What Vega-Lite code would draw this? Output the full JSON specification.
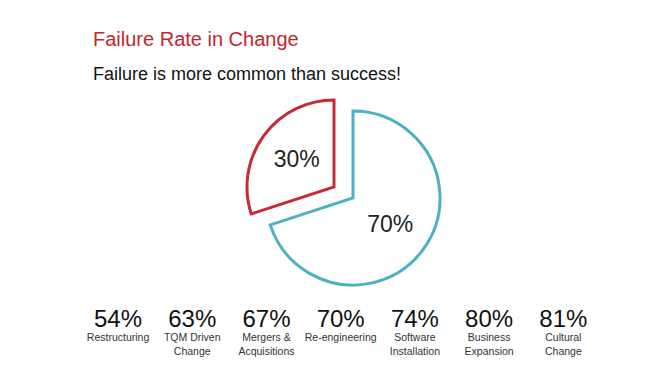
{
  "$schema": "https://vega.github.io/schema/vega-lite/v6.json",
  "background": "#ffffff",
  "padding": {"top": 30, "left": 0, "right": 0, "bottom": 0},
  "config": {"view": {"stroke": null}, "font": "Liberation Sans", "concat": {"spacing": 0}},
  "title": {
    "text": "Failure Rate in Change",
    "subtitle": "Failure is more common than success!",
    "anchor": "start",
    "frame": "group",
    "dx": 93,
    "font": "Liberation Sans",
    "fontSize": 20,
    "fontWeight": "normal",
    "color": "#c3262f",
    "subtitleFont": "Liberation Sans",
    "subtitleFontSize": 18,
    "subtitleColor": "#111111",
    "subtitlePadding": 16,
    "offset": 10
  },
  "spacing": 0,
  "vconcat": [
    {
      "width": 668,
      "height": 200,
      "data": {"values": [
        {"outcome": "Success", "share": 0.7, "order": 1},
        {"outcome": "Failure", "share": 0.3, "order": 2}
      ]},
      "encoding": {
        "theta": {"field": "share", "type": "quantitative", "stack": true},
        "order": {"field": "order", "type": "quantitative"}
      },
      "layer": [
        {
          "mark": {"type": "arc", "outerRadius": 87, "fill": "#ffffff", "strokeWidth": 3, "strokeJoin": "miter", "xOffset": 19},
          "encoding": {
            "stroke": {"field": "outcome", "type": "nominal", "scale": {"domain": ["Success", "Failure"], "range": ["#4cb1c2", "#c62a33"]}, "legend": null},
            "strokeOpacity": {"condition": {"test": "datum.outcome === 'Success'", "value": 1}, "value": 0},
            "fillOpacity": {"condition": {"test": "datum.outcome === 'Success'", "value": 1}, "value": 0}
          }
        },
        {
          "mark": {"type": "arc", "outerRadius": 87, "fill": "#ffffff", "strokeWidth": 3, "strokeJoin": "miter", "xOffset": 0, "yOffset": -11},
          "encoding": {
            "stroke": {"field": "outcome", "type": "nominal", "scale": {"domain": ["Success", "Failure"], "range": ["#4cb1c2", "#c62a33"]}, "legend": null},
            "strokeOpacity": {"condition": {"test": "datum.outcome === 'Failure'", "value": 1}, "value": 0},
            "fillOpacity": {"condition": {"test": "datum.outcome === 'Failure'", "value": 1}, "value": 0}
          }
        },
        {
          "mark": {"type": "text", "radius": 46, "fontSize": 23, "color": "#222222", "xOffset": 19},
          "encoding": {
            "text": {"field": "share", "type": "quantitative", "format": ".0%"},
            "opacity": {"condition": {"test": "datum.outcome === 'Success'", "value": 1}, "value": 0}
          }
        },
        {
          "mark": {"type": "text", "radius": 46, "fontSize": 23, "color": "#222222", "yOffset": -11},
          "encoding": {
            "text": {"field": "share", "type": "quantitative", "format": ".0%"},
            "opacity": {"condition": {"test": "datum.outcome === 'Failure'", "value": 1}, "value": 0}
          }
        }
      ]
    },
    {
      "width": 668,
      "height": 58,
      "data": {"values": [
        {"change": "Restructuring", "rate": 0.54},
        {"change": "TQM Driven\nChange", "rate": 0.63},
        {"change": "Mergers &\nAcquisitions", "rate": 0.67},
        {"change": "Re-engineering", "rate": 0.70},
        {"change": "Software\nInstallation", "rate": 0.74},
        {"change": "Business\nExpansion", "rate": 0.80},
        {"change": "Cultural\nChange", "rate": 0.81}
      ]},
      "encoding": {
        "x": {"field": "change", "type": "nominal", "sort": null, "scale": {"type": "band", "paddingInner": 0, "paddingOuter": 1, "align": 0.545}, "axis": null}
      },
      "layer": [
        {
          "mark": {"type": "text", "fontSize": 24, "baseline": "alphabetic", "color": "#111111"},
          "encoding": {"text": {"field": "rate", "type": "quantitative", "format": ".0%"}}
        },
        {
          "mark": {"type": "text", "fontSize": 10.5, "baseline": "alphabetic", "dy": 14, "lineBreak": "\n", "lineHeight": 14, "color": "#333333"},
          "encoding": {"text": {"field": "change", "type": "nominal"}}
        }
      ]
    }
  ]
}
